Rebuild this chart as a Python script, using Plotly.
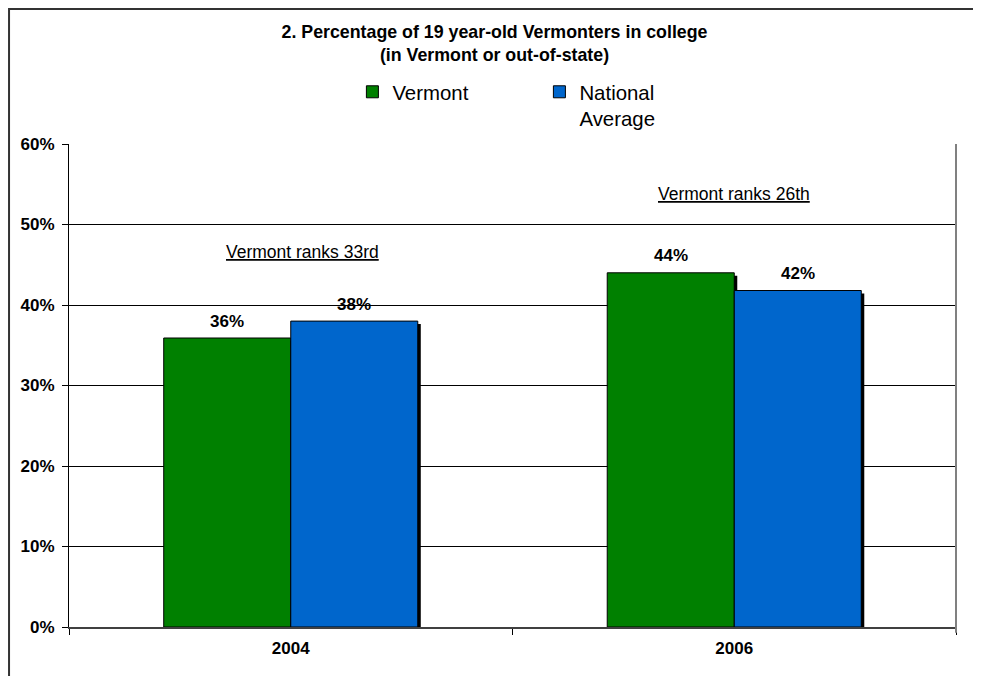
import plotly.graph_objects as go

years = ["2004", "2006"]
vermont = [0.359, 0.44]
national = [0.38, 0.418]
vermont_labels = ["36%", "44%"]
national_labels = ["38%", "42%"]
rank_notes = ["Vermont ranks 33rd", "Vermont ranks 26th"]
title_lines = ["2. Percentage of 19 year-old Vermonters in college", "(in Vermont or out-of-state)"]
y_ticks = [0, 0.1, 0.2, 0.3, 0.4, 0.5, 0.6]
y_tick_labels = ["0%", "10%", "20%", "30%", "40%", "50%", "60%"]

GREEN = "#008000"
BLUE = "#0066CC"
BW = 0.2864          # bar width in category units
BW_PX = 127          # bar width in px (for label shifts)
SH = 0.0068          # shadow offset (category units)
SHY = 0.0037         # shadow vertical drop (data units)
FONT = "Liberation Sans, Arial"

fig = go.Figure()

# shadows
for vals, off in [(vermont, -BW), (national, 0)]:
    fig.add_trace(go.Bar(
        x=years, y=[v - SHY for v in vals], width=BW, offset=off + SH,
        marker=dict(color="black", line=dict(width=0)),
        showlegend=False, hoverinfo="skip"))

fig.add_trace(go.Bar(
    x=years, y=vermont, name="Vermont", width=BW, offset=-BW,
    marker=dict(color=GREEN, line=dict(color="black", width=1))))
fig.add_trace(go.Bar(
    x=years, y=national, name="National<br>Average", width=BW, offset=0,
    marker=dict(color=BLUE, line=dict(color="black", width=1))))

# value labels (x given as category index)
for vals, labels, xs in [(vermont, vermont_labels, -BW_PX / 2), (national, national_labels, BW_PX / 2)]:
    for i, (v, lab) in enumerate(zip(vals, labels)):
        fig.add_annotation(x=i, y=v, xref="x", yref="y", text="<b>%s</b>" % lab, showarrow=False,
                           xshift=xs, yshift=17, xanchor="center", yanchor="middle",
                           font=dict(family=FONT, size=17, color="black"))

fig.update_layout(
    width=973, height=668,
    barmode="overlay",
    margin=dict(l=61, r=25, t=136, b=49),
    paper_bgcolor="white", plot_bgcolor="white",
    font=dict(family=FONT, color="black"),
    title=dict(text="<b>%s<br>%s</b>" % (title_lines[0], title_lines[1]),
               x=0.5, xanchor="center", y=1 - 30 / 668, yanchor="middle",
               font=dict(size=17.8, color="black")),
    legend=dict(orientation="h", x=0.3195, xanchor="left", y=1.149, yanchor="top",
                font=dict(size=20.4), valign="top", traceorder="normal",
                entrywidth=142, entrywidthmode="pixels", bgcolor="rgba(0,0,0,0)"),
    xaxis=dict(type="category", range=[-0.5, 1.5], showgrid=False, showline=True,
               linecolor="#404040", linewidth=2,
               ticks="outside", tickson="boundaries", ticklen=6, tickcolor="black",
               ticklabelstandoff=5,
               tickfont=dict(size=17, color="black"),
               tickvals=years, ticktext=["<b>%s</b>" % y for y in years]),
    yaxis=dict(range=[0, 0.6], tickvals=y_ticks, ticktext=["<b>%s</b>" % t for t in y_tick_labels],
               showgrid=True, gridcolor="black", gridwidth=1,
               showline=True, linecolor="black", linewidth=1,
               ticks="outside", ticklen=6, tickcolor="black", ticklabelstandoff=4,
               tickfont=dict(size=17, color="black"), zeroline=False),
    showlegend=True,
)

# plot area right border
fig.add_shape(type="line", xref="paper", yref="paper", x0=1, x1=1, y0=-0.012, y1=1,
              line=dict(color="#808080", width=2))
# outer chart border
fig.add_shape(type="rect", xref="paper", yref="paper", x0=-0.0676, x1=1.2, y0=-0.3, y1=1.2795,
              line=dict(color="#333333", width=2), fillcolor="rgba(0,0,0,0)", layer="below")

fig.add_annotation(text="<u>%s</u>" % rank_notes[0], xref="paper", yref="paper",
                   x=0.2638, y=0.776, xanchor="center", yanchor="middle",
                   showarrow=False, font=dict(size=17.5, color="black"))
fig.add_annotation(text="<u>%s</u>" % rank_notes[1], xref="paper", yref="paper",
                   x=0.7497, y=0.8965, xanchor="center", yanchor="middle",
                   showarrow=False, font=dict(size=17.5, color="black"))

fig.write_html("out.html")
